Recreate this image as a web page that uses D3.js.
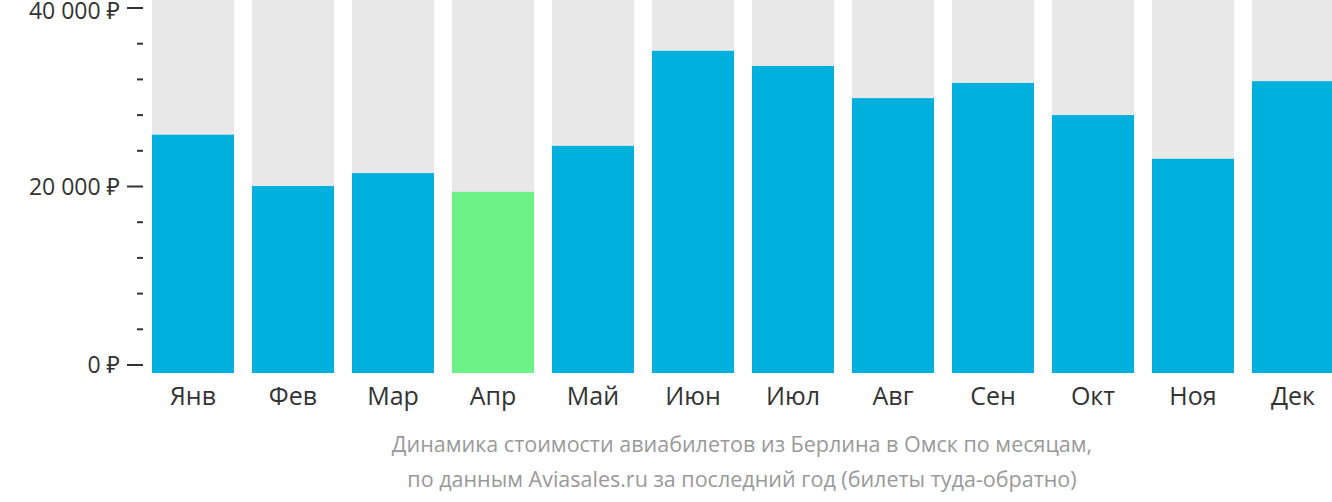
<!DOCTYPE html>
<html>
<head>
<meta charset="utf-8">
<script src="https://cdn.jsdelivr.net/npm/d3@7"></script>
<style>
  body { margin: 0; background: #fff; }
  text { font-family: "Open Sans", "Noto Sans", sans-serif; }
</style>
</head>
<body>
<svg id="chart" width="1332" height="502"></svg>
<script>
const months = ["Янв", "Фев", "Мар", "Апр", "Май", "Июн", "Июл", "Авг", "Сен", "Окт", "Ноя", "Дек"];
const prices = [25800, 20050, 21500, 19400, 24550, 35200, 33500, 29900, 31600, 28000, 23100, 31800];
const highlight = "Апр";
const majorTicks = [0, 20000, 40000];
const minorTicks = [4000, 8000, 12000, 16000, 24000, 28000, 32000, 36000];
const caption = [
    "Динамика стоимости авиабилетов из Берлина в Омск по месяцам,",
    "по данным Aviasales.ru за последний год (билеты туда-обратно)"
];

const svg = d3.select("#chart");

const x = d3.scaleBand().domain(months).range([152, 1334]).paddingInner(0.18).paddingOuter(0);
const y = d3.scaleLinear().domain([0, 40000]).range([365, 8]);
const barBottom = y(0) + 8;

// Grey background columns
svg.selectAll(".bg").data(months).enter().append("rect")
    .attr("x", d => x(d))
    .attr("y", 0)
    .attr("width", x.bandwidth())
    .attr("height", barBottom)
    .attr("fill", "#e8e8e8");

// Price bars
svg.selectAll(".bar").data(months).enter().append("rect")
    .attr("x", d => x(d))
    .attr("y", (d, i) => y(prices[i]))
    .attr("width", x.bandwidth())
    .attr("height", (d, i) => barBottom - y(prices[i]))
    .attr("fill", d => d === highlight ? "#6cf286" : "#00b0dc");

// Y axis ticks
const fmt = v => d3.format(",")(v).replace(/,/g, "\u00a0") + " ₽";
svg.selectAll(".major").data(majorTicks).enter().append("line")
    .attr("x1", 127).attr("x2", 143)
    .attr("y1", d => y(d)).attr("y2", d => y(d))
    .attr("stroke", "#333").attr("stroke-width", 2);
svg.selectAll(".minor").data(minorTicks).enter().append("line")
    .attr("x1", 137).attr("x2", 143)
    .attr("y1", d => y(d)).attr("y2", d => y(d))
    .attr("stroke", "#333").attr("stroke-width", 2);
svg.selectAll(".ylab").data(majorTicks).enter().append("text")
    .attr("x", 120).attr("y", d => Math.max(y(d), 11))
    .attr("dy", "0.35em")
    .attr("text-anchor", "end")
    .attr("font-size", 23)
    .attr("fill", "#333")
    .text(fmt);

// Month labels
svg.selectAll(".xlab").data(months).enter().append("text")
    .attr("x", d => x(d) + x.bandwidth() / 2)
    .attr("y", 405)
    .attr("text-anchor", "middle")
    .attr("font-size", 25)
    .attr("fill", "#333")
    .text(d => d);

// Caption
svg.selectAll(".cap").data(caption).enter().append("text")
    .attr("x", 742).attr("y", (d, i) => 452 + i * 35)
    .attr("text-anchor", "middle")
    .attr("font-size", 21.5)
    .attr("fill", "#999")
    .text(d => d);
</script>
</body>
</html>
